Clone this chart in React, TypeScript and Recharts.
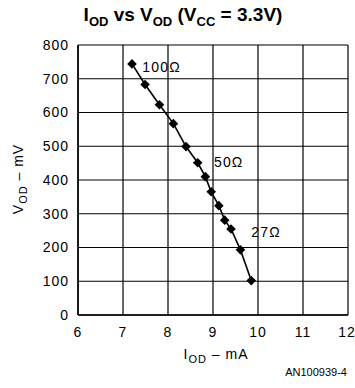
import { CartesianGrid, ComposedChart, Line, Scatter, XAxis, YAxis } from "recharts"

// I_OD (mA) vs V_OD (mV)
const currentMa = [7.2, 7.49, 7.81, 8.12, 8.4, 8.66, 8.83, 8.96, 9.13, 9.26, 9.4, 9.61, 9.85]
const voltageMv = [744, 683, 623, 567, 499, 451, 410, 365, 324, 281, 255, 193, 102]

const xTicks = [6, 7, 8, 9, 10, 11, 12]
const yTicks = [0, 100, 200, 300, 400, 500, 600, 700, 800]

const loadNames = ["100Ω", "50Ω", "27Ω"]
const loadX = [7.43, 9.02, 9.85]
const loadY = [735, 452, 246]

const data = currentMa.map((i, k) => ({ i, v: voltageMv[k] }))
const loads = loadNames.map((name, k) => ({ i: loadX[k], v: loadY[k], name }))

const font = "'Liberation Sans', Arial, sans-serif"

const Diamond = (props: any) => {
  const { cx, cy } = props
  if (cx == null || cy == null) return null
  const r = 4.8
  return <path d={`M${cx},${cy - r}L${cx + r},${cy}L${cx},${cy + r}L${cx - r},${cy}Z`} fill="#000" />
}

const LoadLabel = (props: any) => {
  const { cx, cy, payload } = props
  return (
    <text x={cx} y={cy} dy="0.35em" fontSize={14} letterSpacing={1.2} fontFamily={font} fill="#000">
      {payload.name}
    </text>
  )
}

export default function App() {
  return (
    <div style={{ position: "absolute", left: 0, top: 0, width: 355, height: 388, background: "#fff", fontFamily: font }}>
      <div style={{ position: "absolute", left: 0, width: 366, top: 4, textAlign: "center", fontWeight: "bold", fontSize: 19 }}>
        I<sub style={{ fontSize: 13 }}>OD</sub> vs V<sub style={{ fontSize: 13 }}>OD</sub> (V<sub style={{ fontSize: 13 }}>CC</sub> = 3.3V)
      </div>
      <ComposedChart width={355} height={388} data={data} margin={{ top: 45, right: 7, bottom: 43, left: 0 }}>
        <CartesianGrid stroke="#000" strokeWidth={1.2} />
        <XAxis
          dataKey="i"
          type="number"
          domain={[6, 12]}
          ticks={xTicks}
          height={30}
          tickSize={0}
          tickMargin={12}
          axisLine={{ stroke: "#000", strokeWidth: 1.5 }}
          tick={{ fill: "#000", fontSize: 14, fontFamily: font, letterSpacing: 1 }}
        />
        <YAxis
          dataKey="v"
          type="number"
          domain={[0, 800]}
          ticks={yTicks}
          width={78}
          tickSize={0}
          tickMargin={9}
          axisLine={{ stroke: "#000", strokeWidth: 1.5 }}
          tick={{ fill: "#000", fontSize: 14, fontFamily: font, letterSpacing: 1 }}
        />
        <Line
          dataKey="v"
          stroke="#000"
          strokeWidth={1.6}
          dot={<Diamond />}
          activeDot={false}
          isAnimationActive={false}
        />
        <Scatter data={loads} dataKey="v" shape={<LoadLabel />} isAnimationActive={false} />
      </ComposedChart>
      <div
        style={{
          position: "absolute",
          left: 18,
          top: 179,
          transform: "translate(-50%, -50%) rotate(-90deg)",
          whiteSpace: "nowrap",
          fontSize: 14,
          lineHeight: "16px",
          letterSpacing: 1,
        }}
      >
        V<sub style={{ fontSize: 11, lineHeight: 0 }}>OD</sub> – mV
      </div>
      <div style={{ position: "absolute", left: 0, width: 432, top: 346, textAlign: "center", fontSize: 14, lineHeight: "16px", letterSpacing: 1 }}>
        I<sub style={{ fontSize: 11, lineHeight: 0 }}>OD</sub> – mA
      </div>
      <div style={{ position: "absolute", right: 8, top: 366, fontSize: 11 }}>AN100939-4</div>
    </div>
  )
}
